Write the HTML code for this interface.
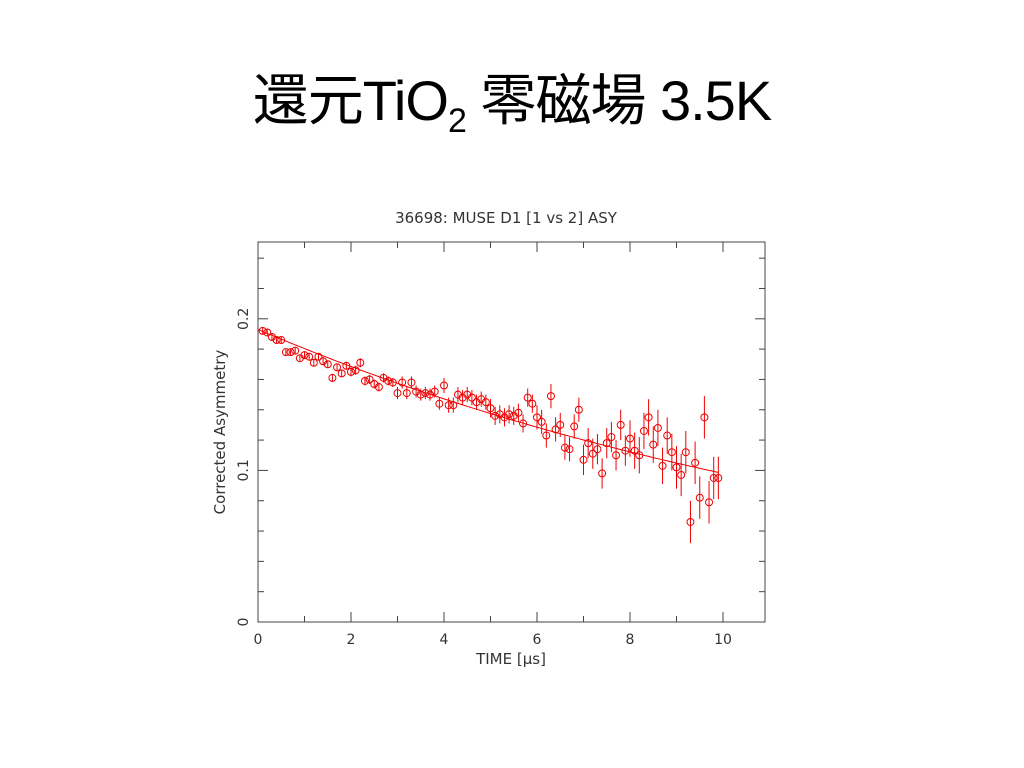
<!DOCTYPE html>
<html><head><meta charset="utf-8"><style>
body{margin:0;background:#fff;width:1024px;height:768px;overflow:hidden}
.t{position:absolute;left:0;width:1024px;top:56px;text-align:center;font-family:"Liberation Sans","Noto Sans CJK JP",sans-serif;font-size:56px;color:#000;letter-spacing:-1px}
</style></head><body>
<div class="t">還元TiO<sub style="font-size:34px">2</sub> 零磁場 3.5K</div>
<svg id="c" width="1024" height="768" style="position:absolute;left:0;top:0" font-family="DejaVu Sans, sans-serif"></svg>
<script>
const times=[0.1,0.2,0.3,0.4,0.5,0.6,0.7,0.8,0.9,1.0,1.1,1.2,1.3,1.4,1.5,1.6,1.7,1.8,1.9,2.0,2.1,2.2,2.3,2.4,2.5,2.6,2.7,2.8,2.9,3.0,3.1,3.2,3.3,3.4,3.5,3.6,3.7,3.8,3.9,4.0,4.1,4.2,4.3,4.4,4.5,4.6,4.7,4.8,4.9,5.0,5.1,5.2,5.3,5.4,5.5,5.6,5.7,5.8,5.9,6.0,6.1,6.2,6.3,6.4,6.5,6.6,6.7,6.8,6.9,7.0,7.1,7.2,7.3,7.4,7.5,7.6,7.7,7.8,7.9,8.0,8.1,8.2,8.3,8.4,8.5,8.6,8.7,8.8,8.9,9.0,9.1,9.2,9.3,9.4,9.5,9.6,9.7,9.8,9.9];
const asym=[0.192,0.191,0.188,0.186,0.186,0.178,0.178,0.179,0.174,0.176,0.175,0.171,0.175,0.172,0.170,0.161,0.168,0.164,0.169,0.165,0.166,0.171,0.159,0.160,0.157,0.155,0.161,0.159,0.158,0.151,0.158,0.151,0.158,0.152,0.150,0.151,0.150,0.152,0.144,0.156,0.143,0.143,0.150,0.148,0.150,0.148,0.145,0.147,0.145,0.141,0.136,0.137,0.135,0.137,0.136,0.138,0.131,0.148,0.144,0.135,0.132,0.123,0.149,0.127,0.130,0.115,0.114,0.129,0.140,0.107,0.118,0.111,0.114,0.098,0.118,0.122,0.110,0.130,0.113,0.121,0.113,0.110,0.126,0.135,0.117,0.128,0.103,0.123,0.112,0.102,0.097,0.112,0.066,0.105,0.082,0.135,0.079,0.095,0.095];
const errBySecond=[0.002,0.0025,0.003,0.004,0.005,0.006,0.008,0.010,0.012,0.014,0.016];
const fitA=0.193, fitLambda=14.75;
const xTicks=[0,2,4,6,8,10], yTicks=[0,0.1,0.2];
const L=258,R=765,T=242,B=622;
const X=v=>L+v*46.5, Y=v=>B-v*1516;
const s=document.getElementById('c'),NS='http://www.w3.org/2000/svg';
function mk(t,a,p){const e=document.createElementNS(NS,t);for(const k in a)e.setAttribute(k,a[k]);(p||s).appendChild(e);return e;}
const fr=mk('rect',{x:L,y:T,width:R-L,height:B-T,fill:'none',stroke:'#444','stroke-width':1});


for(let v=0;v<=10.5;v+=1){const x=X(v),l=(v%2==0)?10:6;mk('line',{x1:x,x2:x,y1:B,y2:B-l,stroke:'#444'});mk('line',{x1:x,x2:x,y1:T,y2:T+l,stroke:'#444'});}
for(let i=0;i*0.02<=0.25;i++){const y=Y(i*0.02),l=(i%5==0)?10:6;mk('line',{x1:L,x2:L+l,y1:y,y2:y,stroke:'#444'});mk('line',{x1:R,x2:R-l,y1:y,y2:y,stroke:'#444'});}
xTicks.forEach(v=>{const t=mk('text',{x:X(v),y:644,'text-anchor':'middle','font-size':14,fill:'#333'});t.textContent=v;

});
yTicks.forEach(v=>{const t=mk('text',{x:248,y:Y(v),'text-anchor':'middle','font-size':14,fill:'#333',transform:`rotate(-90 248 ${Y(v)})`});t.textContent=v;

});
let t=mk('text',{x:511,y:664,'text-anchor':'middle','font-size':15,fill:'#333'});t.textContent='TIME [μs]';


t=mk('text',{x:225,y:432,'text-anchor':'middle','font-size':15,fill:'#333',transform:'rotate(-90 225 432)'});t.textContent='Corrected Asymmetry';


t=mk('text',{x:506,y:223,'text-anchor':'middle','font-size':15,fill:'#333'});t.textContent='36698: MUSE D1  [1 vs 2] ASY';


let d='';for(let v=0;v<=9.9;v+=0.1){d+=(d?'L':'M')+X(v).toFixed(1)+','+Y(fitA*Math.exp(-v/fitLambda)).toFixed(1);}
const fl=mk('path',{d:d,fill:'none',stroke:'#e00','stroke-width':1});


times.forEach((tv,i)=>{const e=errBySecond[Math.floor(tv)],g=mk('g',{stroke:'#e00',fill:'none'});


mk('line',{x1:X(tv),x2:X(tv),y1:Y(asym[i]-e),y2:Y(asym[i]+e)},g);mk('circle',{cx:X(tv),cy:Y(asym[i]),r:3.5},g);});
</script>
</body></html>
